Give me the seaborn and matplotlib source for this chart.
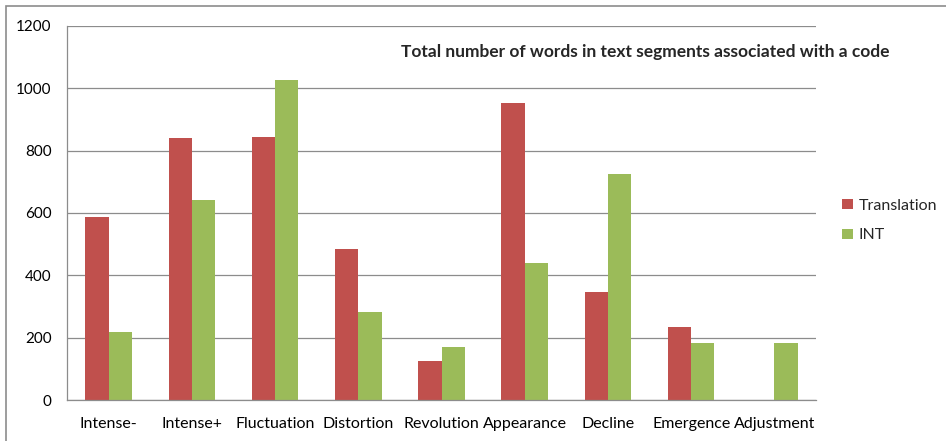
import pandas as pd
import matplotlib.pyplot as plt
import seaborn as sns
from matplotlib.patches import Rectangle

# data
codes = ["Intense-", "Intense+", "Fluctuation", "Distortion", "Revolution",
         "Appearance", "Decline", "Emergence", "Adjustment"]
translation = [586, 840, 843, 484, 124, 954, 345, 233, 0]
int_words = [217, 641, 1026, 283, 170, 439, 726, 184, 184]

df = pd.DataFrame({
    "code": codes * 2,
    "words": translation + int_words,
    "series": ["Translation"] * len(codes) + ["INT"] * len(codes),
})

sns.set_theme(style="white")
plt.rcParams["font.family"] = ["Lato", "DejaVu Sans"]

fig = plt.figure(figsize=(9.46, 4.41), dpi=100)
ax = fig.add_axes([67 / 946, 1 - 400 / 441, (816 - 67) / 946, (400 - 26) / 441])

sns.barplot(data=df, x="code", y="words", hue="series", order=codes,
            palette={"Translation": "#C0504D", "INT": "#9BBB59"},
            width=0.56, saturation=1, linewidth=0, ax=ax, legend=True)

# axes styling, Excel-like
ax.set_ylim(0, 1200)
ax.set_yticks(range(0, 1201, 200))
ax.set_xlim(-0.5, len(codes) - 0.5)
ax.set_xlabel("")
ax.set_ylabel("")
ax.yaxis.grid(True, color="#8c8c8c", linewidth=0.9)
ax.set_axisbelow(True)
for side in ["top", "right"]:
    ax.spines[side].set_visible(False)
for side in ["left", "bottom"]:
    ax.spines[side].set_color("#8c8c8c")
    ax.spines[side].set_linewidth(0.9)

ax.set_xticks([i - 0.5 for i in range(len(codes) + 1)], minor=True)
ax.tick_params(axis="x", which="major", length=0, pad=12, labelsize=11.5, colors="#000000")
ax.tick_params(axis="x", which="minor", length=5, color="#8c8c8c", width=0.9, direction="out")
ax.tick_params(axis="y", length=5, color="#8c8c8c", width=0.9, direction="out",
               labelsize=11, colors="#000000", pad=6)
for lbl in ax.get_xticklabels() + ax.get_yticklabels():
    lbl.set_color("#000000")

ax.legend(loc="center left", bbox_to_anchor=(828 / 946, 0.5), bbox_transform=fig.transFigure,
          frameon=False, fontsize=11.5, handlelength=0.65, handleheight=0.65,
          handletextpad=0.35, labelspacing=1.0)

fig.text(645 / 946, 1 - 52 / 441, "Total number of words in text segments associated with a code",
         ha="center", va="center", fontsize=12.5, fontweight="bold")

# outer chart border
fig.patches.append(Rectangle((6 / 946, -0.05), 1.0, 1 - 6 / 441 + 0.05,
                             transform=fig.transFigure, fill=False,
                             edgecolor="#8c8c8c", linewidth=1.2))

fig.savefig("out.png", dpi=100)
